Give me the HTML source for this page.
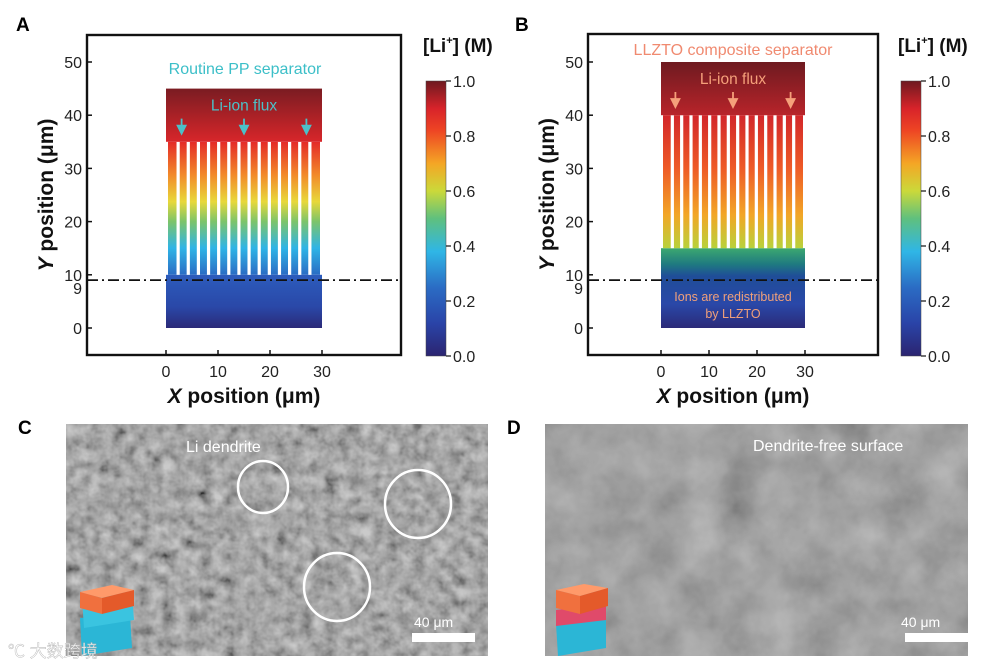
<!DOCTYPE html>
<html><head><meta charset="utf-8"><style>
body{margin:0;background:#fff;}
svg{display:block;font-family:"Liberation Sans",Arial,sans-serif;}
</style></head><body>
<svg id="fig" width="998" height="664" viewBox="0 0 998 664">
<defs>
<linearGradient id="cbar" x1="0" y1="1" x2="0" y2="0">
<stop offset="0" stop-color="#2b2470"/><stop offset="0.12" stop-color="#2a44a8"/><stop offset="0.25" stop-color="#2b6cc4"/>
<stop offset="0.38" stop-color="#2fb6e6"/><stop offset="0.5" stop-color="#5fc07e"/><stop offset="0.6" stop-color="#cbd93a"/>
<stop offset="0.7" stop-color="#f4a625"/><stop offset="0.82" stop-color="#ee4524"/><stop offset="0.9" stop-color="#d8232a"/><stop offset="1" stop-color="#6e1a20"/>
</linearGradient>
<linearGradient id="aTop" x1="0" y1="1" x2="0" y2="0"><stop offset="0" stop-color="#d8262a"/><stop offset="1" stop-color="#7a1c22"/></linearGradient>
<linearGradient id="aCh" x1="0" y1="0" x2="0" y2="1">
<stop offset="0" stop-color="#e42a28"/><stop offset="0.25" stop-color="#f28a2a"/><stop offset="0.45" stop-color="#e8d83a"/><stop offset="0.6" stop-color="#7cc46a"/><stop offset="0.8" stop-color="#2fb4e6"/><stop offset="1" stop-color="#2a6cc4"/></linearGradient>
<linearGradient id="aBot" x1="0" y1="0" x2="0" y2="1"><stop offset="0" stop-color="#2c5cbc"/><stop offset="0.6" stop-color="#2a48a8"/><stop offset="1" stop-color="#2b2a78"/></linearGradient>
<linearGradient id="bTop" x1="0" y1="1" x2="0" y2="0"><stop offset="0" stop-color="#b8242a"/><stop offset="1" stop-color="#6e1a20"/></linearGradient>
<linearGradient id="bCh" x1="0" y1="0" x2="0" y2="1"><stop offset="0" stop-color="#d2262a"/><stop offset="0.4" stop-color="#ee5a26"/><stop offset="0.75" stop-color="#f2a626"/><stop offset="1" stop-color="#b8d23c"/></linearGradient>
<linearGradient id="bBot" x1="0" y1="0" x2="0" y2="1"><stop offset="0" stop-color="#3ca870"/><stop offset="0.2" stop-color="#1f7a80"/><stop offset="0.35" stop-color="#1f4d98"/><stop offset="0.7" stop-color="#2a48a8"/><stop offset="1" stop-color="#2b2a78"/></linearGradient>
<filter id="semC" x="0" y="0" width="100%" height="100%"><feTurbulence type="fractalNoise" baseFrequency="0.08" numOctaves="3" seed="3"/><feColorMatrix type="matrix" values="0.33 0.33 0.33 0 0  0.33 0.33 0.33 0 0  0.33 0.33 0.33 0 0  0 0 0 0 1"/><feComponentTransfer><feFuncR type="linear" slope="2" intercept="-0.45"/><feFuncG type="linear" slope="2" intercept="-0.45"/><feFuncB type="linear" slope="2" intercept="-0.45"/></feComponentTransfer></filter>
<filter id="semD" x="0" y="0" width="100%" height="100%"><feTurbulence type="fractalNoise" baseFrequency="0.025" numOctaves="4" seed="7"/><feColorMatrix type="matrix" values="0.33 0.33 0.33 0 0  0.33 0.33 0.33 0 0  0.33 0.33 0.33 0 0  0 0 0 0 1"/><feComponentTransfer><feFuncR type="linear" slope="1.2" intercept="-0.08"/><feFuncG type="linear" slope="1.2" intercept="-0.08"/><feFuncB type="linear" slope="1.2" intercept="-0.08"/></feComponentTransfer></filter>
</defs>
<g id="panelA"></g>
<g id="panelB"></g>

<text x="18" y="434" font-size="19" font-weight="bold">C</text>
<g>
<rect x="66" y="424" width="422" height="232" fill="#7a7a7a"/>
<rect x="66" y="424" width="422" height="232" filter="url(#semC)" opacity="0.6"/>
<text x="186" y="452" font-size="16" fill="#fff">Li dendrite</text>
<ellipse cx="263" cy="487" rx="25" ry="26" fill="none" stroke="#fff" stroke-width="2.5"/>
<ellipse cx="418" cy="504" rx="33" ry="34" fill="none" stroke="#fff" stroke-width="2.5"/>
<ellipse cx="337" cy="587" rx="33" ry="34" fill="none" stroke="#fff" stroke-width="2.5"/>
<text x="414" y="627" font-size="14" fill="#fff">40 μm</text>
<rect x="412" y="633" width="63" height="9" fill="#fff"/>
<g>
<polygon points="80,618 130,614 132,648 82,656" fill="#2bb6d6"/>
<polygon points="82,598 132,594 134,620 84,628" fill="#3ac4e0"/>
<polygon points="80,592 112,585 134,590 102,598" fill="#ff9a6a"/>
<polygon points="80,592 102,598 102,614 80,608" fill="#f0703e"/>
<polygon points="102,598 134,590 134,606 102,614" fill="#e45a2a"/>
</g>
<text x="8" y="657" font-size="17" fill="#fff" stroke="#aaa" stroke-width="0.4" opacity="0.9">℃ 大数跨境</text>
</g>

<text x="507" y="434" font-size="19" font-weight="bold">D</text>
<g>
<rect x="545" y="424" width="423" height="232" fill="#858585"/>
<rect x="545" y="424" width="423" height="232" filter="url(#semD)" opacity="0.5"/>
<text x="753" y="451" font-size="16" fill="#fff">Dendrite-free surface</text>
<text x="901" y="627" font-size="14" fill="#fff">40 μm</text>
<rect x="905" y="633" width="63" height="9" fill="#fff"/>
<g>
<polygon points="556,624 606,620 606,648 558,656" fill="#2bb6d6"/>
<polygon points="556,610 606,604 606,620 556,626" fill="#e04a6a"/>
<polygon points="556,590 584,584 608,588 580,596" fill="#ff9a6a"/>
<polygon points="556,590 580,596 580,614 556,608" fill="#f0703e"/>
<polygon points="580,596 608,588 608,606 580,614" fill="#e45a2a"/>
</g>
</g>
</svg>
<script>
const yTicks = [0, 10, 20, 30, 40, 50];
const xTicks = [0, 10, 20, 30];
const cbarTicks = [0.0, 0.2, 0.4, 0.6, 0.8, 1.0];
const channelCount = 15;
const regionsA = {bottom: [0, 10], channels: [10, 35], top: [35, 45]};
const regionsB = {bottom: [0, 15], channels: [15, 40], top: [40, 50]};
const dashLineY = 9;
const NS = "http://www.w3.org/2000/svg";
function mk(parent, tag, attrs, txt){const e=document.createElementNS(NS,tag);for(const k in attrs)e.setAttribute(k,attrs[k]);if(txt!==undefined)e.textContent=txt;parent.appendChild(e);return e;}

function panel(gid, cfg){
  const g=document.getElementById(gid);
  const ys=v=>cfg.y0-(v)*(cfg.y0-cfg.y50)/50;
  const xs=v=>cfg.x0+v*(cfg.x30-cfg.x0)/30;
  let t=mk(g,'text',{x:cfg.lx,y:31,'font-size':19,'font-weight':'bold'},cfg.letter);
  
  
  const R=cfg.regions;
  let r=mk(g,'rect',{x:xs(0),y:ys(R.bottom[1]),width:xs(30)-xs(0),height:ys(R.bottom[0])-ys(R.bottom[1]),fill:cfg.bot});
  
  
  r=mk(g,'rect',{x:xs(0)+2,y:ys(R.channels[1]),width:xs(30)-xs(0)-4,height:ys(R.channels[0])-ys(R.channels[1]),fill:cfg.ch});
  
  
  const w=(xs(30)-xs(0)-4)/channelCount;
  for(let i=1;i<channelCount;i++){
    const s=mk(g,'rect',{x:xs(0)+2+i*w-1.6,y:ys(R.channels[1]),width:3.2,height:ys(R.channels[0])-ys(R.channels[1]),fill:'#fff'});
    
    
  }
  r=mk(g,'rect',{x:xs(0),y:ys(R.top[1]),width:xs(30)-xs(0),height:ys(R.top[0])-ys(R.top[1]),fill:cfg.top});
  
  
  t=mk(g,'text',{x:xs(15),y:ys(R.top[1])+22,'font-size':15.5,fill:cfg.acol,'text-anchor':'middle'},'Li-ion flux');
  
  
  [3,15,27].forEach(v=>{
    const a=mk(g,'path',{d:`M${xs(v)},${ys(R.top[1])+30}v14M${xs(v)-4},${ys(R.top[1])+37}l4,8l4,-8z`,stroke:cfg.acol,'stroke-width':1.8,fill:cfg.acol});
    
    
  });
  t=mk(g,'text',{x:cfg.titleX,y:cfg.titleY,'font-size':16,fill:cfg.tcol,'text-anchor':'middle'},cfg.title);
  
  
  if(cfg.note){cfg.note.forEach((s,i)=>{const n=mk(g,'text',{x:xs(15),y:ys(0)-27+i*17,'font-size':12.5,fill:'#f0a07a','text-anchor':'middle'},s);
    
    });}
  const dl=mk(g,'line',{x1:cfg.fx1,x2:cfg.fx2,y1:ys(dashLineY),y2:ys(dashLineY),stroke:'#111','stroke-width':1.8,'stroke-dasharray':'11,4,2,4'});
  
  
  const fr=mk(g,'rect',{x:cfg.fx1,y:cfg.fy1,width:cfg.fx2-cfg.fx1,height:cfg.fy2-cfg.fy1,fill:'none',stroke:'#111','stroke-width':2.4});
  
  
  yTicks.forEach(v=>{
    const l=mk(g,'line',{x1:cfg.fx1,x2:cfg.fx1+5,y1:ys(v),y2:ys(v),stroke:'#111','stroke-width':1.5});
    
    
    const tt=mk(g,'text',{x:cfg.fx1-5,y:ys(v)+6,'font-size':16,'text-anchor':'end',fill:'#222'},String(v));
    
    
  });
  const nine=mk(g,'text',{x:cfg.fx1-5,y:ys(dashLineY)+14,'font-size':16,'text-anchor':'end',fill:'#222'},'9');
  
  
  xTicks.forEach(v=>{
    const l=mk(g,'line',{x1:xs(v),x2:xs(v),y1:cfg.fy2,y2:cfg.fy2-5,stroke:'#111','stroke-width':1.5});
    
    
    const tt=mk(g,'text',{x:xs(v),y:cfg.fy2+22,'font-size':16,'text-anchor':'middle',fill:'#222'},String(v));
    
    
  });
  t=mk(g,'text',{x:xs(15),y:403,'font-size':21,'font-weight':'bold','text-anchor':'middle',fill:'#111'});
  mk(t,'tspan',{'font-style':'italic'},'X');
  mk(t,'tspan',{},' position (μm)');
  
  
  const yc=(cfg.fy1+cfg.fy2)/2;
  t=mk(g,'text',{x:0,y:0,'font-size':21,'font-weight':'bold','text-anchor':'middle',fill:'#111',transform:`translate(${cfg.fx1-34},${yc}) rotate(-90)`});
  mk(t,'tspan',{'font-style':'italic'},'Y');
  mk(t,'tspan',{},' position (μm)');
  
  
  const cb=mk(g,'rect',{x:cfg.cbx,y:81,width:20,height:275,fill:'url(#cbar)',stroke:'#444','stroke-width':0.5});
  
  
  cbarTicks.forEach(v=>{
    const yy=356-v*275;
    const l=mk(g,'line',{x1:cfg.cbx+20,x2:cfg.cbx+25,y1:yy,y2:yy,stroke:'#111','stroke-width':1.2});
    
    
    const tt=mk(g,'text',{x:cfg.cbx+27,y:yy+6,'font-size':16,fill:'#222'},v.toFixed(1));
    
    
  });
  t=mk(g,'text',{x:cfg.cbx-3,y:52,'font-size':19,'font-weight':'bold',fill:'#111'});
  mk(t,'tspan',{},'[Li');
  mk(t,'tspan',{dy:-8,'font-size':11},'+');
  mk(t,'tspan',{dy:8},'] (M)');
  
  
}
panel('panelA',{letter:'A',lx:16,x0:166,x30:322,y0:328,y50:62,fx1:87,fx2:401,fy1:35,fy2:355,cbx:426,regions:regionsA,
  top:'url(#aTop)',ch:'url(#aCh)',bot:'url(#aBot)',acol:'#4cc0c8',tcol:'#3cbfc8',title:'Routine PP separator',titleX:245,titleY:74});
panel('panelB',{letter:'B',lx:515,x0:661,x30:805,y0:328,y50:62,fx1:588,fx2:878,fy1:34,fy2:355,cbx:901,regions:regionsB,
  top:'url(#bTop)',ch:'url(#bCh)',bot:'url(#bBot)',acol:'#f5a07a',tcol:'#f08a70',title:'LLZTO composite separator',titleX:733,titleY:55,
  note:['Ions are redistributed','by LLZTO']});
</script>
</body></html>
